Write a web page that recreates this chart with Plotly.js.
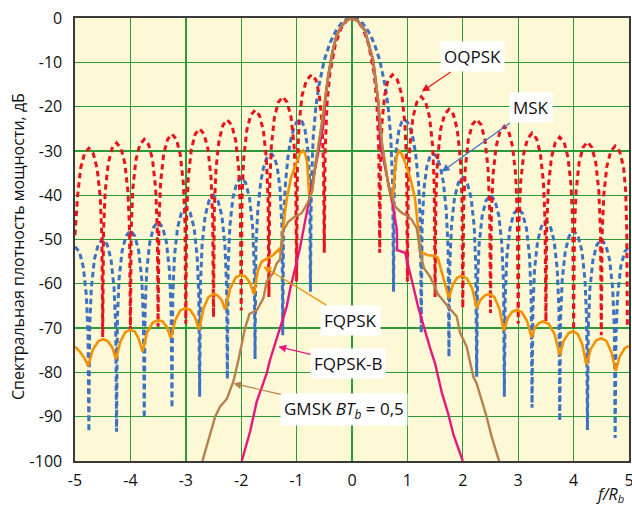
<!DOCTYPE html>
<html>
<head>
<meta charset="utf-8">
<script src="https://cdn.plot.ly/plotly-3.0.1.min.js"></script>
<style>html,body{margin:0;padding:0;background:#fff;}#chart{width:632px;height:505px;}</style>
</head>
<body>
<div id="chart"></div>
<script>
// ---- data ----
const xTickVals = [-5, -4, -3, -2, -1, 0, 1, 2, 3, 4, 5];
const xTickText = ['-5', '-4', '-3', '-2', '-1', '0', '1', '2', '3', '4', '5'];
const yTickVals = [0, -10, -20, -30, -40, -50, -60, -70, -80, -90, -100];
const yTickText = ['0', '-10', '-20', '-30', '-40', '-50', '-60', '-70', '-80', '-90', '-100'];

// OQPSK (red dashed)
const oqpskX = [
  -5, -4.955, -4.9, -4.83, -4.75, -4.67, -4.6, -4.545, -4.515, -4.5,
  -4.485, -4.455, -4.4, -4.33, -4.25, -4.17, -4.1, -4.045, -4.015, -4.0,
  -3.985, -3.955, -3.9, -3.83, -3.75, -3.67, -3.6, -3.545, -3.515, -3.5,
  -3.485, -3.455, -3.4, -3.33, -3.25, -3.17, -3.1, -3.045, -3.015, -3.0,
  -2.985, -2.955, -2.9, -2.83, -2.75, -2.67, -2.6, -2.545, -2.515, -2.5,
  -2.485, -2.455, -2.4, -2.33, -2.25, -2.17, -2.1, -2.045, -2.015, -2.0,
  -1.985, -1.955, -1.9, -1.83, -1.75, -1.67, -1.6, -1.545, -1.515, -1.5,
  -1.485, -1.455, -1.4, -1.33, -1.25, -1.17, -1.1, -1.045, -1.015, -1.0,
  -0.985, -0.955, -0.9, -0.82, -0.73, -0.65, -0.59, -0.54, -0.515, -0.5,
  -0.485, -0.45, -0.4, -0.3, -0.2, -0.1, 0, 0.1, 0.2, 0.3, 0.4, 0.45, 0.485, 0.5,
  0.515, 0.54, 0.59, 0.65, 0.73, 0.82, 0.9, 0.955, 0.985, 1.0,
  1.015, 1.045, 1.1, 1.17, 1.25, 1.33, 1.4, 1.455, 1.485, 1.5,
  1.515, 1.545, 1.6, 1.67, 1.75, 1.83, 1.9, 1.955, 1.985, 2.0,
  2.015, 2.045, 2.1, 2.17, 2.25, 2.33, 2.4, 2.455, 2.485, 2.5,
  2.515, 2.545, 2.6, 2.67, 2.75, 2.83, 2.9, 2.955, 2.985, 3.0,
  3.015, 3.045, 3.1, 3.17, 3.25, 3.33, 3.4, 3.455, 3.485, 3.5,
  3.515, 3.545, 3.6, 3.67, 3.75, 3.83, 3.9, 3.955, 3.985, 4.0,
  4.015, 4.045, 4.1, 4.17, 4.25, 4.33, 4.4, 4.455, 4.485, 4.5,
  4.515, 4.545, 4.6, 4.67, 4.75, 4.83, 4.9, 4.94, 4.96, 4.97
];
const oqpskY = [
  -49, -40.4, -34, -30.6, -29.4, -30.6, -34, -40.4, -49.4, -72,
  -48.2, -39.2, -32.8, -29.4, -28.2, -29.4, -32.8, -39.2, -48.2, -70.5,
  -47.4, -38.4, -32, -28.6, -27.4, -28.6, -32, -38.4, -47.4, -69.7,
  -46.2, -37.2, -30.8, -27.4, -26.2, -27.4, -30.8, -37.2, -46.2, -69,
  -45, -36, -29.6, -26.2, -25, -26.2, -29.6, -36, -45, -67.5,
  -43, -34, -27.6, -24.2, -23, -24.2, -27.6, -34, -43, -66,
  -40.8, -31.8, -25.4, -22, -20.8, -22, -25.4, -31.8, -40.8, -63,
  -37.8, -28.8, -22.4, -19, -17.8, -19, -22.4, -28.8, -37.8, -59.5,
  -32.8, -23.8, -17.4, -14, -12.8, -14, -17.4, -23.8, -32.8, -53,
  -30, -19.2, -12.6, -5.9, -2.4, -0.6, 0, -0.6, -2.4, -5.9, -12.6, -19.2, -30, -53,
  -32.8, -23.8, -17.4, -14, -12.8, -14, -17.4, -23.8, -32.8, -59.5,
  -37.8, -28.8, -22.4, -19, -17.8, -19, -22.4, -28.8, -37.8, -63,
  -40.6, -31.6, -25.2, -21.8, -20.6, -21.8, -25.2, -31.6, -40.6, -65.5,
  -42.9, -33.9, -27.5, -24.1, -22.9, -24.1, -27.5, -33.9, -42.9, -66.6,
  -44.5, -35.5, -29.1, -25.7, -24.5, -25.7, -29.1, -35.5, -44.5, -69,
  -46, -37, -30.6, -27.2, -26, -27.2, -30.6, -37, -46, -68.5,
  -46.9, -37.9, -31.5, -28.1, -26.9, -28.1, -31.5, -37.9, -46.9, -70.4,
  -48, -39, -32.6, -29.2, -28, -29.2, -32.6, -39, -48, -71.6,
  -48.9, -39.9, -33.5, -30.1, -28.9, -30.1, -33.5, -39, -48, -70
];

// MSK (blue dashed)
const mskX = [
  -5, -4.92, -4.85, -4.795, -4.765, -4.75,
  -4.735, -4.705, -4.65, -4.58, -4.5, -4.42, -4.35, -4.295, -4.265, -4.25,
  -4.235, -4.205, -4.15, -4.08, -4.0, -3.92, -3.85, -3.795, -3.765, -3.75,
  -3.735, -3.705, -3.65, -3.58, -3.5, -3.42, -3.35, -3.295, -3.265, -3.25,
  -3.235, -3.205, -3.15, -3.08, -3.0, -2.92, -2.85, -2.795, -2.765, -2.75,
  -2.735, -2.705, -2.65, -2.58, -2.5, -2.42, -2.35, -2.295, -2.265, -2.25,
  -2.235, -2.205, -2.15, -2.08, -2.0, -1.92, -1.85, -1.795, -1.765, -1.75,
  -1.735, -1.7, -1.65, -1.6, -1.55, -1.5, -1.45, -1.4, -1.35, -1.3, -1.265, -1.25,
  -1.235, -1.2, -1.15, -1.1, -1.05, -1.0, -0.95, -0.9, -0.85, -0.8, -0.765, -0.75,
  -0.735, -0.7, -0.65, -0.6, -0.5, -0.4, -0.3, -0.2, -0.1, 0, 0.1, 0.2, 0.3, 0.4, 0.5, 0.6, 0.65, 0.7, 0.735, 0.75,
  0.765, 0.8, 0.85, 0.9, 0.95, 1.0, 1.05, 1.1, 1.15, 1.2, 1.235, 1.25,
  1.265, 1.3, 1.35, 1.4, 1.45, 1.5, 1.55, 1.6, 1.65, 1.7, 1.735, 1.75,
  1.765, 1.795, 1.85, 1.92, 2.0, 2.08, 2.15, 2.205, 2.235, 2.25,
  2.265, 2.295, 2.35, 2.42, 2.5, 2.58, 2.65, 2.705, 2.735, 2.75,
  2.765, 2.795, 2.85, 2.92, 3.0, 3.08, 3.15, 3.205, 3.235, 3.25,
  3.265, 3.295, 3.35, 3.42, 3.5, 3.58, 3.65, 3.705, 3.735, 3.75,
  3.765, 3.795, 3.85, 3.92, 4.0, 4.08, 4.15, 4.205, 4.235, 4.25,
  4.265, 4.295, 4.35, 4.42, 4.5, 4.58, 4.65, 4.705, 4.735, 4.75,
  4.765, 4.795, 4.85, 4.92, 5.0
];
const mskY = [
  -51.6, -52.8, -56.2, -62.6, -71.6, -93.4,
  -69.9, -60.9, -54.5, -51.1, -49.9, -51.1, -54.5, -60.9, -69.9, -93.4,
  -68, -59, -52.6, -49.2, -48, -49.2, -52.6, -59, -68, -90.3,
  -66, -57, -50.6, -47.2, -46, -47.2, -50.6, -57, -66, -88,
  -62.8, -53.8, -47.4, -44, -42.8, -44, -47.4, -53.8, -62.8, -85.5,
  -60, -51, -44.6, -41.2, -40, -41.2, -44.6, -51, -60, -81.5,
  -56, -47, -40.6, -37.2, -36, -37.2, -40.6, -47, -56, -77,
  -52, -43.3, -37.2, -33.9, -31.9, -30.9, -30.7, -31.5, -33.6, -38.5, -47, -71.6,
  -46, -37.1, -30.7, -27.1, -24.9, -23.5, -23, -23.4, -25.1, -29.5, -36.6, -61.8,
  -38.2, -26.9, -19.8, -15.4, -9.5, -5.7, -3.1, -1.3, -0.3, 0, -0.3, -1.3, -3.1, -5.7, -9.5, -15.4, -19.8, -26.9, -38.2, -61.8,
  -36.6, -29.5, -25.1, -23.4, -23, -23.5, -24.9, -27.1, -30.7, -37.1, -46, -71.1,
  -47, -38.5, -33.6, -31.5, -30.7, -30.9, -31.9, -33.9, -37.2, -43.3, -52, -76.5,
  -56, -47, -40.6, -37.2, -36, -37.2, -40.6, -47, -56, -81,
  -60, -51, -44.6, -41.2, -40, -41.2, -44.6, -51, -60, -85.5,
  -63, -54, -47.6, -44.2, -43, -44.2, -47.6, -54, -63, -88,
  -65.8, -56.8, -50.4, -47, -45.8, -47, -50.4, -56.8, -65.8, -91,
  -68, -59, -52.6, -49.2, -48, -49.2, -52.6, -59, -68, -93,
  -70, -61, -54.6, -51.2, -50, -51.2, -54.6, -61, -70, -94.8,
  -71.6, -62.6, -56.2, -52.8, -51.6
];

// FQPSK (orange solid)
const fqpskX = [
  -5.0, -4.9, -4.82, -4.76, -4.68, -4.58, -4.49, -4.41, -4.33, -4.26,
  -4.18, -4.09, -4.0, -3.92, -3.85, -3.78, -3.70, -3.60, -3.50, -3.42, -3.34, -3.27,
  -3.19, -3.10, -3.01, -2.92, -2.835, -2.76, -2.68, -2.59, -2.50, -2.43, -2.35, -2.29,
  -2.20, -2.10, -2.0, -1.92, -1.84, -1.77, -1.70, -1.63, -1.52, -1.42, -1.32, -1.29,
  -1.24, -1.18, -1.1, -1.0, -0.94, -0.88, -0.84, -0.81, -0.79, -0.77,
  -0.72, -0.66, -0.58, -0.52, -0.47, -0.43, -0.35, -0.28, -0.2, -0.1, 0, 0.1, 0.23, 0.38, 0.47, 0.54, 0.66, 0.73,
  0.77, 0.81, 0.85, 0.9, 0.99, 1.07, 1.14, 1.19, 1.23, 1.35, 1.50, 1.55,
  1.75, 1.82, 1.90, 1.98, 2.075, 2.17, 2.25, 2.32, 2.40, 2.48, 2.57, 2.66, 2.74,
  2.81, 2.89, 2.97, 3.065, 3.16, 3.24, 3.30, 3.38, 3.45, 3.555, 3.66, 3.75,
  3.82, 3.91, 3.99, 4.074, 4.158, 4.23, 4.31, 4.405, 4.50, 4.59, 4.68, 4.76,
  4.83, 4.92, 5.0
];
const fqpskY = [
  -74.2, -75.5, -77, -78.6, -74.9, -73, -72.5, -72.9, -74.3, -77,
  -73, -70.9, -70.4, -70.8, -72.4, -75.3, -71, -68.8, -68.2, -68.5, -69.8, -72.3,
  -68.2, -66, -65.5, -65.9, -67.5, -70.4, -65.5, -63, -62.3, -62.6, -63.7, -65.8,
  -61.1, -58.6, -58, -58.4, -59.8, -62.4, -57, -55, -54.2, -53.5, -52.2, -53,
  -47, -41, -36, -32.7, -30.6, -29.9, -30.8, -32.7, -36, -40.3,
  -39, -33, -27, -22, -17, -13.2, -7.5, -4, -2, -0.5, 0, -0.6, -2.7, -9.5, -18.5, -28.3, -38, -41.8,
  -35, -31, -30, -30.8, -33.6, -37, -41, -47, -52.7, -53.5, -53.7, -54.2,
  -63.3, -60.2, -58.6, -58.2, -58.8, -61.1, -65.5, -63.6, -62.6, -62.3, -63, -65.6, -70.6,
  -67.8, -66.3, -65.9, -66.4, -68.4, -72.1, -69.9, -68.8, -68.5, -69.1, -71.5, -76.1,
  -72.9, -71.1, -70.7, -71.3, -73.7, -78.3, -74.7, -72.8, -72.3, -72.9, -75.3, -79.7,
  -76.5, -74.6, -74
];

// FQPSK-B (magenta solid)
const fqpskbX = [
  -1.99, -1.84, -1.72, -1.54, -1.48, -1.36, -1.18, -1.12, -0.94, -0.76, -0.52,
  -0.47, -0.43, -0.35, -0.28, -0.2, -0.1, 0, 0.1, 0.23, 0.38, 0.47, 0.51,
  0.63, 0.72, 0.81, 0.815, 0.96, 1.02, 1.2, 1.41, 1.5, 1.62, 1.74, 1.83, 1.98, 2.0
];
const fqpskbY = [
  -100, -93.4, -86.6, -80.2, -77.2, -72.3, -65.2, -61.4, -52, -40.2, -24.5,
  -17, -13.2, -7.5, -4, -2, -0.5, 0, -0.6, -2.7, -9.5, -18.5, -28.3,
  -35.8, -41, -47.9, -52.4, -53, -56, -65.5, -74.5, -78, -84.5, -89.5, -94, -99.5, -100
];

// GMSK BTb = 0.5 (brown solid)
const gmskX = [
  -2.70, -2.47, -2.38, -2.26, -2.14, -2.05, -1.93, -1.85, -1.72, -1.60, -1.54, -1.42, -1.36, -1.30,
  -1.24, -1.15, -1.03, -0.91, -0.79, -0.72, -0.66, -0.58, -0.52, -0.47, -0.43, -0.35, -0.28, -0.2, -0.1, 0,
  0.1, 0.23, 0.38, 0.47, 0.54, 0.66, 0.78, 0.9, 1.02, 1.08, 1.17, 1.23, 1.3, 1.41, 1.47, 1.56, 1.71,
  1.89, 1.95, 2.07, 2.19, 2.25, 2.43, 2.52, 2.64, 2.66
];
const gmskY = [
  -100, -90, -87.7, -86, -82, -77.2, -70, -66.8, -66, -63.3, -59.5, -57.5, -55.4, -54.5,
  -48, -46, -44.8, -44.1, -41.5, -39, -33, -27, -22, -17, -13.2, -7.5, -4, -2, -0.5, 0,
  -0.6, -2.7, -9.5, -18.5, -28.3, -38, -42.6, -44, -44.8, -45.6, -47.5, -53, -56.5, -58.4, -59.9, -62.5, -64.8,
  -67.4, -71, -74.2, -81, -82.5, -90, -94.5, -99.4, -100
];

// ---- chart ----
const FONT = 'Open Sans, Noto Sans, DejaVu Sans, sans-serif';

const traces = [
  {x: mskX, y: mskY, mode: 'lines', name: 'MSK',
   line: {color: '#3d72c2', width: 3, dash: '5.5px,3.5px'}},
  {x: oqpskX, y: oqpskY, mode: 'lines', name: 'OQPSK',
   line: {color: '#e8141c', width: 3, dash: '5.5px,4px'}},
  {x: fqpskX, y: fqpskY, mode: 'lines', name: 'FQPSK',
   line: {color: '#f39200', width: 2.6}},
  {x: fqpskbX, y: fqpskbY, mode: 'lines', name: 'FQPSK-B',
   line: {color: '#e6187c', width: 2.4}},
  {x: gmskX, y: gmskY, mode: 'lines', name: 'GMSK',
   line: {color: '#b5824e', width: 2.4}}
];

function label(text, x, y, ax, ay, color) {
  return {
    text: text, x: x, y: y, ax: ax, ay: ay,
    xref: 'x', yref: 'y', axref: 'x', ayref: 'y',
    showarrow: true, arrowhead: 2, arrowsize: 1.3, arrowwidth: 1.2,
    arrowcolor: color, bgcolor: '#ffffff', borderpad: 3,
    font: {family: FONT, size: 17, color: '#111'}
  };
}

const layout = {
  width: 632, height: 505,
  margin: {l: 75, r: 3, t: 18, b: 44},
  paper_bgcolor: '#ffffff',
  plot_bgcolor: '#fdf8d6',
  showlegend: false,
  xaxis: {
    range: [-5, 5], tickvals: xTickVals, ticktext: xTickText,
    showgrid: true, gridcolor: '#2b9b3a', gridwidth: 1.4, zeroline: false,
    showline: true, mirror: true, linecolor: '#3a3a3a', linewidth: 1.6,
    ticks: '', ticklabelstandoff: 4, ticklabeloverflow: 'allow',
    tickfont: {family: FONT, size: 16, color: '#111'}
  },
  yaxis: {
    range: [-100, 0], tickvals: yTickVals, ticktext: yTickText,
    showgrid: true, gridcolor: '#2b9b3a', gridwidth: 1.4, zeroline: false,
    showline: true, mirror: true, linecolor: '#3a3a3a', linewidth: 1.6,
    ticks: '', ticklabelstandoff: 8, ticklabeloverflow: 'allow',
    tickfont: {family: FONT, size: 16, color: '#111'}
  },
  annotations: [
    label('OQPSK', 1.26, -16.6, 2.18, -8.8, '#e8141c'),
    label('MSK', 1.62, -34.7, 3.23, -20.3, '#3d72c2'),
    label('FQPSK', -1.60, -56.1, -0.02, -68.2, '#f39200'),
    label('FQPSK-B', -1.33, -74.2, -0.07, -77.9, '#e6187c'),
    label('GMSK <i>BT<sub>b</sub></i> = 0,5', -2.14, -82.5, -0.14, -88.3, '#b5824e'),
    {text: '<i>f/R<sub>b</sub></i>', xref: 'paper', yref: 'paper', x: 0.995, y: -0.075,
     xanchor: 'right', yanchor: 'middle', showarrow: false,
     font: {family: FONT, size: 16, color: '#111'}},
    {text: 'Спектральная плотность мощности, дБ', xref: 'paper', yref: 'paper',
     x: -0.103, y: 0.485, xanchor: 'center', yanchor: 'middle', textangle: -90, showarrow: false,
     font: {family: FONT, size: 16, color: '#111'}}
  ]
};

Plotly.newPlot('chart', traces, layout, {staticPlot: true, displayModeBar: false});
</script>
</body>
</html>
